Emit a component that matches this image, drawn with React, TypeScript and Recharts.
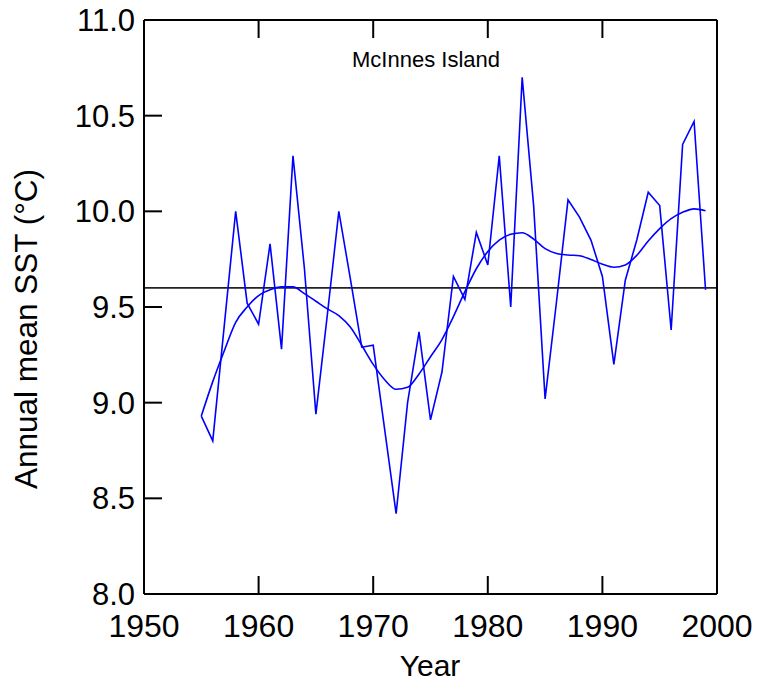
import React from "react";
import { LineChart, Line, XAxis, YAxis, ReferenceLine } from "recharts";

const years = [
  1955, 1956, 1957, 1958, 1959, 1960, 1961, 1962, 1963, 1964, 1965, 1966, 1967, 1968, 1969,
  1970, 1971, 1972, 1973, 1974, 1975, 1976, 1977, 1978, 1979, 1980, 1981, 1982, 1983, 1984,
  1985, 1986, 1987, 1988, 1989, 1990, 1991, 1992, 1993, 1994, 1995, 1996, 1997, 1998, 1999,
];

const annualSST = [
  8.93, 8.8, 9.4, 10.0, 9.52, 9.41, 9.83, 9.28, 10.29, 9.7, 8.94, 9.46, 10.0, 9.65, 9.29,
  9.3, 8.86, 8.42, 9.0, 9.37, 8.91, 9.16, 9.66, 9.54, 9.89, 9.72, 10.29, 9.5, 10.7, 10.03,
  9.02, 9.53, 10.06, 9.97, 9.85, 9.66, 9.2, 9.64, 9.85, 10.1, 10.03, 9.38, 10.35, 10.47, 9.59,
];

const smoothedSST = [
  8.93, 9.11, 9.27, 9.42, 9.5, 9.56, 9.59, 9.605, 9.605, 9.57, 9.53, 9.49, 9.455, 9.395, 9.3,
  9.2, 9.12, 9.07, 9.08, 9.15, 9.24, 9.33, 9.45, 9.58, 9.7, 9.79, 9.85, 9.88, 9.888, 9.855,
  9.805, 9.78, 9.772, 9.768, 9.748, 9.724, 9.708, 9.72, 9.77, 9.845, 9.91, 9.962, 9.995, 10.013, 10.003,
];

const meanSST = 9.6;
const xTicks = [1950, 1960, 1970, 1980, 1990, 2000];
const yTicks = [8.0, 8.5, 9.0, 9.5, 10.0, 10.5, 11.0];
const stationName = "McInnes Island";
const xTitle = "Year";
const yTitle = "Annual mean SST (°C)";

const data = years.map((y, i) => ({ year: y, sst: annualSST[i], smooth: smoothedSST[i] }));

const FONT = "'Liberation Sans', Arial, sans-serif";
const TICK_LEN = 18;

const BottomTick = (p: any) => (
  <g>
    <line x1={p.x} y1={p.y} x2={p.x} y2={p.y - TICK_LEN} stroke="#000" strokeWidth={2} />
    <text x={p.x} y={p.y + 43} textAnchor="middle" fontSize={32} fontFamily={FONT} fill="#000">
      {p.payload.value}
    </text>
  </g>
);

const TopTick = (p: any) => (
  <line x1={p.x} y1={p.y} x2={p.x} y2={p.y + TICK_LEN} stroke="#000" strokeWidth={2} />
);

const LeftTick = (p: any) => (
  <g>
    <line x1={p.x} y1={p.y} x2={p.x + TICK_LEN} y2={p.y} stroke="#000" strokeWidth={2} />
    <text x={p.x - 9} y={p.y + 11} textAnchor="end" fontSize={31} fontFamily={FONT} fill="#000">
      {Number(p.payload.value).toFixed(1)}
    </text>
  </g>
);

const RightTick = (p: any) => (
  <line x1={p.x} y1={p.y} x2={p.x - TICK_LEN} y2={p.y} stroke="#000" strokeWidth={2} />
);

export default function App() {
  return (
    <div style={{ position: "absolute", left: 0, top: 0, width: 759, height: 683, background: "#fff" }}>
      <LineChart
        width={759}
        height={683}
        data={data}
        margin={{ top: 19, right: 41, bottom: 88, left: 143 }}
      >
        <XAxis
          dataKey="year"
          type="number"
          domain={[1950, 2000]}
          ticks={xTicks}
          interval={0}
          height={1}
          tickSize={0}
          tickMargin={0}
          tickLine={false}
          tick={BottomTick}
          axisLine={{ stroke: "#000", strokeWidth: 2 }}
          label={{
            content: () => (
              <text x={430} y={676} textAnchor="middle" fontSize={30} fontFamily={FONT} fill="#000">
                {xTitle}
              </text>
            ),
          }}
        />
        <XAxis
          xAxisId="top"
          orientation="top"
          dataKey="year"
          type="number"
          domain={[1950, 2000]}
          ticks={xTicks}
          interval={0}
          height={1}
          tickSize={0}
          tickMargin={0}
          tickLine={false}
          tick={TopTick}
          axisLine={{ stroke: "#000", strokeWidth: 2 }}
          label={{
            content: () => (
              <text x={426} y={67} textAnchor="middle" fontSize={22} fontFamily={FONT} fill="#000">
                {stationName}
              </text>
            ),
          }}
        />
        <YAxis
          type="number"
          domain={[8, 11]}
          ticks={yTicks}
          interval={0}
          width={1}
          tickSize={0}
          tickMargin={0}
          tickLine={false}
          tick={LeftTick}
          axisLine={{ stroke: "#000", strokeWidth: 2 }}
          label={{
            content: () => (
              <text
                x={0}
                y={0}
                transform="translate(37, 329) rotate(-90)"
                textAnchor="middle"
                fontSize={31.5}
                fontFamily={FONT}
                fill="#000"
              >
                {yTitle}
              </text>
            ),
          }}
        />
        <YAxis
          yAxisId="right"
          orientation="right"
          type="number"
          domain={[8, 11]}
          ticks={yTicks}
          interval={0}
          width={1}
          tickSize={0}
          tickMargin={0}
          tickLine={false}
          tick={RightTick}
          axisLine={{ stroke: "#000", strokeWidth: 2 }}
        />
        <ReferenceLine y={meanSST} stroke="#222" strokeWidth={1.6} />
        <Line
          dataKey="sst"
          type="linear"
          stroke="#0000ff"
          strokeWidth={1.6}
          dot={false}
          isAnimationActive={false}
        />
        <Line
          dataKey="smooth"
          type="monotone"
          stroke="#0000ff"
          strokeWidth={1.6}
          dot={false}
          isAnimationActive={false}
        />
      </LineChart>
    </div>
  );
}
